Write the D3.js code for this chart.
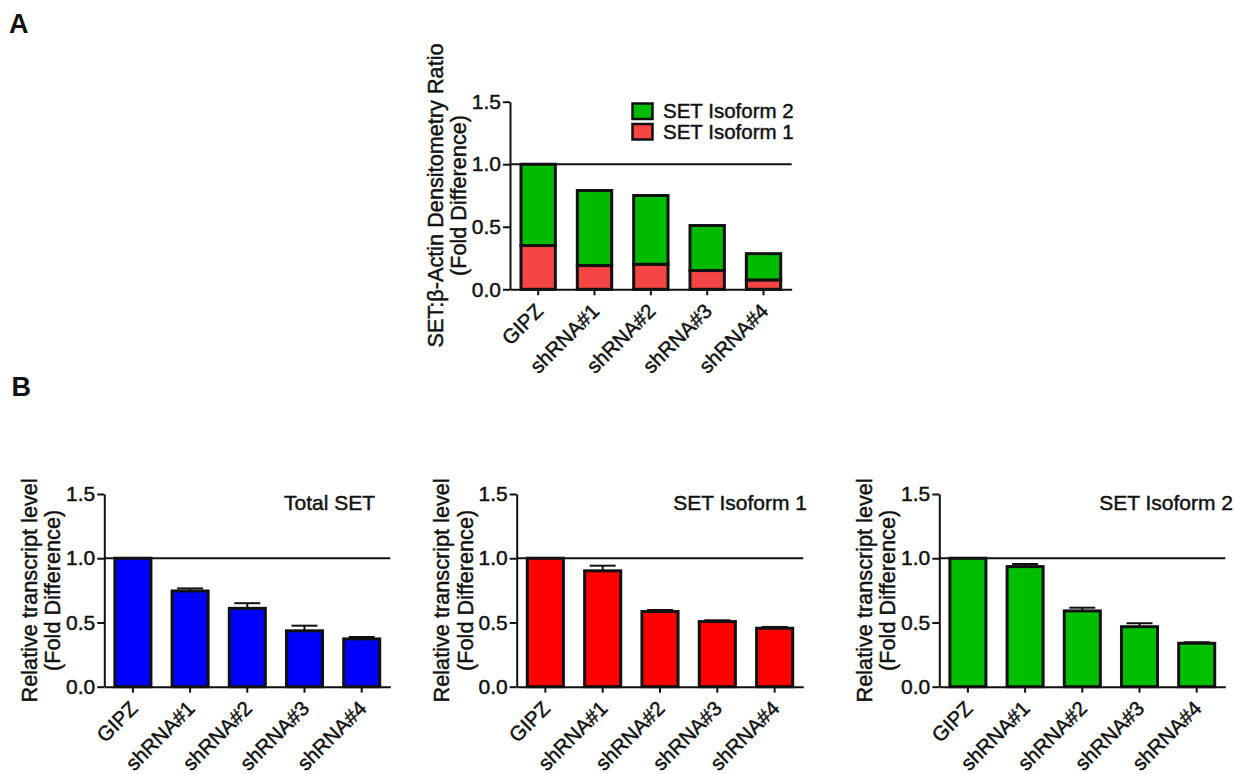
<!DOCTYPE html>
<html>
<head>
<meta charset="utf-8">
<script src="https://cdn.jsdelivr.net/npm/d3@7"></script>
<style>
  html, body { margin: 0; padding: 0; background: #fff; }
  svg { display: block; }
  text { font-family: "Liberation Sans", Arial, sans-serif; fill: #111; }
</style>
</head>
<body>
<svg id="chart" width="1236" height="774"></svg>
<script>
// ---------------- DATA ----------------
const categories = ["GIPZ", "shRNA#1", "shRNA#2", "shRNA#3", "shRNA#4"];
const yTickValues = [0, 0.5, 1.0, 1.5];

// Panel A: stacked densitometry (fold difference)
const densIsoform1 = [0.35, 0.19, 0.20, 0.15, 0.075];
const densIsoform2 = [0.65, 0.60, 0.55, 0.36, 0.21];
const legendLabels = ["SET Isoform 2", "SET Isoform 1"];

// Panel B: relative transcript levels (mean, upper error)
const totalSetMean = [1.0, 0.745, 0.61, 0.435, 0.372];
const totalSetErr  = [0, 0.02, 0.04, 0.04, 0.015];
const iso1Mean     = [1.0, 0.902, 0.585, 0.507, 0.455];
const iso1Err      = [0, 0.04, 0.012, 0.01, 0.01];
const iso2Mean     = [1.0, 0.935, 0.59, 0.467, 0.338];
const iso2Err      = [0, 0.02, 0.025, 0.027, 0.008];
const panelTitles  = ["Total SET", "SET Isoform 1", "SET Isoform 2"];

const yTitleA = ["SET:\u03B2-Actin Densitometry Ratio", "(Fold Difference)"];
const yTitleB = ["Relative transcript level", "(Fold Difference)"];

// ---------------- STYLE / LAYOUT ----------------
const FONT = "21px";
const colors = {
  aGreen: "#00bb00", aRed: "#f54545",
  blue: "#0000ff", red: "#ff0000", green: "#00bf00"
};

const svg = d3.select("#chart");

function styleText(sel, size) {
  return sel.style("font-size", size || FONT)
    .attr("stroke", "#111").attr("stroke-width", 0.45);
}

function drawAxes(g, x, y, x0, x1, yTitle) {
  // y axis
  const ya = g.append("g").attr("transform", `translate(${x0},0)`)
    .call(d3.axisLeft(y).tickValues(yTickValues).tickFormat(d3.format(".1f"))
      .tickSize(7).tickSizeOuter(0).tickPadding(2));
  ya.selectAll("path, line").attr("stroke", "#111").attr("stroke-width", 2);
  styleText(ya.selectAll("text"), "21px").attr("fill", "#111");

  // x axis
  const xa = g.append("g").attr("transform", `translate(0,${y(0)})`)
    .call(d3.axisBottom(x).tickSize(6).tickSizeOuter(0));
  xa.selectAll("path, line").attr("stroke", "#111").attr("stroke-width", 2);
  styleText(xa.selectAll("text"), "20.5px")
    .attr("fill", "#111")
    .attr("x", 0).attr("y", 0).attr("dy", "0.35em")
    .attr("transform", "translate(1,18) rotate(-45)")
    .style("text-anchor", "end");

  // reference line at 1.0
  g.append("line")
    .attr("x1", x0).attr("x2", x1)
    .attr("y1", y(1)).attr("y2", y(1))
    .attr("stroke", "#111").attr("stroke-width", 2);

  // y title (two lines)
  const cy = (y(0) + y(1.5)) / 2;
  const offsets = [-67.5, -44];
  yTitle.forEach((t, i) => {
    styleText(g.append("text"), "21.7px")
      .attr("transform", `translate(${x0 + offsets[i]},${cy}) rotate(-90)`)
      .attr("text-anchor", "middle")
      .text(t);
  });
}

// ---------------- PANEL A ----------------
(function () {
  const x0 = 510, x1 = 791.7, yTop = 101.7, yBot = 289.3;
  const g = svg.append("g");
  const x = d3.scaleBand().domain(categories).range([x0, x1])
    .paddingInner(0.39).paddingOuter(0.195);
  const y = d3.scaleLinear().domain([0, 1.5]).range([yBot, yTop]);

  const rows = categories.map((c, i) => ({ c, a: densIsoform1[i], b: densIsoform2[i] }));
  g.selectAll("rect.iso1").data(rows).join("rect")
    .attr("x", d => x(d.c)).attr("width", x.bandwidth())
    .attr("y", d => y(d.a)).attr("height", d => y(0) - y(d.a))
    .attr("fill", colors.aRed).attr("stroke", "#111").attr("stroke-width", 3);
  g.selectAll("rect.iso2").data(rows).join("rect")
    .attr("x", d => x(d.c)).attr("width", x.bandwidth())
    .attr("y", d => y(d.a + d.b)).attr("height", d => y(d.a) - y(d.a + d.b))
    .attr("fill", colors.aGreen).attr("stroke", "#111").attr("stroke-width", 3);

  drawAxes(g, x, y, x0, x1, yTitleA);

  // legend
  const legColors = [colors.aGreen, colors.aRed];
  const legY = [103.5, 124];
  legendLabels.forEach((t, i) => {
    g.append("rect").attr("x", 632.5).attr("y", legY[i])
      .attr("width", 20).attr("height", 15.5)
      .attr("fill", legColors[i]).attr("stroke", "#111").attr("stroke-width", 2.5);
    styleText(g.append("text"), "20.5px").attr("x", 663).attr("y", legY[i] + 14.5)
      .text(t);
  });
})();

// ---------------- PANEL B ----------------
const bPanels = [
  { x0: 104.3, x1: 390.3, mean: totalSetMean, err: totalSetErr, color: colors.blue, titleX: 375 },
  { x0: 516.7, x1: 803.3, mean: iso1Mean, err: iso1Err, color: colors.red, titleX: 807 },
  { x0: 939.3, x1: 1225.3, mean: iso2Mean, err: iso2Err, color: colors.green, titleX: 1233 }
];

bPanels.forEach((p, k) => {
  const yTop = 494, yBot = 686.7;
  const g = svg.append("g");
  const x = d3.scaleBand().domain(categories).range([p.x0, p.x1])
    .paddingInner(0.37).paddingOuter(0.185);
  const y = d3.scaleLinear().domain([0, 1.5]).range([yBot, yTop]);
  const rows = categories.map((c, i) => ({ c, m: p.mean[i], e: p.err[i] }));

  // error bars (upper only)
  const eb = g.selectAll("g.err").data(rows.filter(d => d.e > 0)).join("g");
  eb.append("line")
    .attr("x1", d => x(d.c) + x.bandwidth() / 2).attr("x2", d => x(d.c) + x.bandwidth() / 2)
    .attr("y1", d => y(d.m)).attr("y2", d => y(d.m + d.e))
    .attr("stroke", "#111").attr("stroke-width", 2);
  eb.append("line")
    .attr("x1", d => x(d.c) + x.bandwidth() / 2 - 13).attr("x2", d => x(d.c) + x.bandwidth() / 2 + 13)
    .attr("y1", d => y(d.m + d.e)).attr("y2", d => y(d.m + d.e))
    .attr("stroke", "#111").attr("stroke-width", 2);

  g.selectAll("rect.bar").data(rows).join("rect")
    .attr("x", d => x(d.c)).attr("width", x.bandwidth())
    .attr("y", d => y(d.m)).attr("height", d => y(0) - y(d.m))
    .attr("fill", p.color).attr("stroke", "#111").attr("stroke-width", 3);

  drawAxes(g, x, y, p.x0, p.x1, yTitleB);

  styleText(g.append("text"))
    .attr("x", p.titleX).attr("y", 510)
    .attr("text-anchor", "end")
    .text(panelTitles[k]);
});

// panel letters
svg.append("text").attr("x", 9).attr("y", 33)
  .style("font-size", "27px").style("font-weight", "bold").text("A");
svg.append("text").attr("x", 11.5).attr("y", 396)
  .style("font-size", "27px").style("font-weight", "bold").text("B");
</script>
</body>
</html>
